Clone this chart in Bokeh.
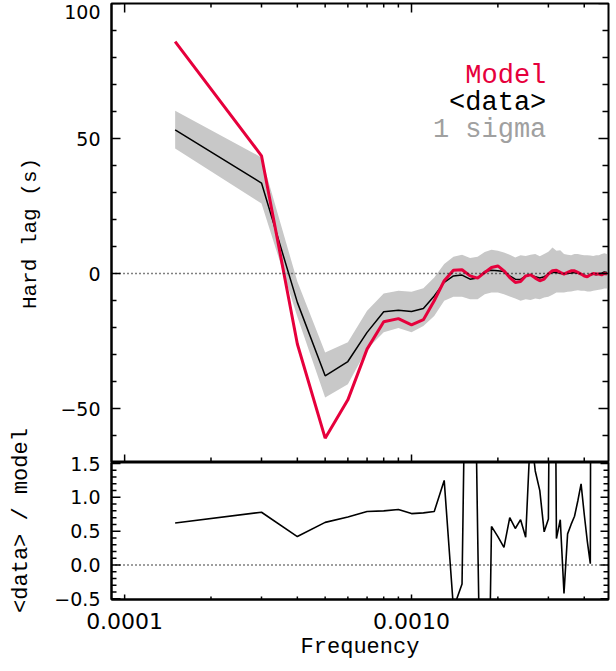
from math import log10, nan
from bokeh.plotting import figure
from bokeh.models import (Range1d, FixedTicker, PrintfTickFormatter,
                          CustomJSTickFormatter, Span, Label)
from bokeh.layouts import row, column
from bokeh.embed import file_html
from bokeh.resources import INLINE

# ---------------- data ----------------
FREQ = [1.5e-4, 3.0e-4, 4.0e-4, 5.0e-4, 6.0e-4, 7.0e-4, 8.0e-4, 9.0e-4,
        1.0e-3, 1.1e-3, 1.2e-3, 1.3e-3, 1.4e-3, 1.5e-3, 1.6e-3, 1.7e-3,
        1.8e-3, 1.9e-3, 2.0e-3, 2.1e-3, 2.2e-3, 2.3e-3, 2.4e-3, 2.5e-3,
        2.6e-3, 2.7e-3, 2.8e-3, 2.9e-3, 3.0e-3, 3.1e-3, 3.2e-3, 3.3e-3,
        3.4e-3, 3.5e-3, 3.6e-3, 3.7e-3, 3.8e-3, 3.9e-3, 4.0e-3, 4.1e-3,
        4.2e-3, 4.3e-3, 4.4e-3, 4.5e-3, 4.6e-3, 4.7e-3, 4.8e-3]

DATA_LAG = [53.2, 33.5, -10.7, -37.9, -32.6, -21.8, -14.2, -13.6,
            -14.1, -13.0, -8.3, -3.3, -0.9, -0.6, -2.1, -1.7,
            0.7, 1.2, 1.0, 0.7, -0.9, -2.1, -2.2, -0.9,
            -0.6, -1.2, -1.7, -1.2, -0.2, 0.4, 0.4, 0.1,
            -0.2, 0.0, 0.2, 0.4, 0.1, -0.2, -0.6, -0.9,
            -0.6, -0.2, -0.5, -0.2, 0.1, 0.6, 0.4]

MODEL_LAG = [85.9, 43.6, -26.1, -61.0, -46.8, -28.0, -17.9, -16.7,
             -19.0, -17.1, -10.1, -2.7, 1.2, 1.4, -0.9, -1.7,
             0.4, 2.2, 2.8, 1.0, -1.5, -3.3, -3.0, -0.9,
             -0.5, -1.7, -2.7, -2.1, -0.2, 1.0, 1.2, 0.4,
             -0.2, 0.4, 1.0, 1.0, 0.4, -0.2, -0.9, -1.2,
             -0.5, 0.0, -0.2, -0.2, -0.5, 0.0, -0.2]

SIGMA_UP = [60.3, 43.0, -3.0, -29.3, -25.5, -13.8, -7.4, -6.4,
            -6.8, -5.5, -1.5, 3.5, 6.2, 6.9, 5.7, 6.2,
            8.0, 8.8, 8.4, 7.8, 6.9, 5.9, 6.8, 6.5,
            6.9, 7.2, 6.4, 7.2, 8.1, 9.6, 8.4, 8.6,
            7.2, 6.9, 6.8, 7.2, 7.2, 6.9, 6.8, 6.8,
            6.7, 6.5, 6.8, 6.8, 7.2, 7.5, 7.2]

SIGMA_LO = [46.3, 25.9, -16.0, -45.9, -41.0, -28.0, -21.8, -20.2,
            -21.8, -19.4, -15.7, -10.1, -8.6, -8.6, -9.5, -9.5,
            -7.7, -7.0, -7.0, -7.7, -8.5, -9.3, -10.1, -9.5,
            -9.8, -9.3, -9.5, -8.9, -8.6, -7.9, -7.0, -7.0,
            -7.0, -6.8, -6.7, -6.4, -6.2, -6.4, -6.4, -6.7,
            -6.7, -6.4, -6.2, -6.0, -5.8, -5.6, -5.6]

RATIO = [0.62, 0.78, 0.42, 0.63, 0.71, 0.79, 0.80, 0.82,
         0.76, 0.77, 0.79, 1.25, -0.64, -0.28, 8.0, 0.5,
         -6.0, 0.57, 0.42, 0.26, 0.70, 0.54, 0.67, 0.41,
         2.0, 1.39, 1.10, 0.49, 0.68, 9.0, 0.39, 0.67,
         -0.42, 0.46, 0.60, 0.72, 0.95, 1.2, 0.75, 0.35,
         0.02, 20.0, 15.0, 25.0, 12.0, 30.0, 18.0]

X_MAJOR = [1e-4, 1e-3]
X_MINOR = [2e-4, 3e-4, 4e-4, 5e-4, 6e-4, 7e-4, 8e-4, 9e-4, 2e-3, 3e-3, 4e-3]
LAG_MAJOR = [-50, 0, 50, 100]
LAG_MINOR = [-70, -60, -40, -30, -20, -10, 10, 20, 30, 40, 60, 70, 80, 90]
RAT_MAJOR = [-0.5, 0.0, 0.5, 1.0, 1.5]
RAT_MINOR = [-0.4, -0.3, -0.2, -0.1, 0.1, 0.2, 0.3, 0.4, 0.6, 0.7, 0.8, 0.9,
             1.1, 1.2, 1.3, 1.4]

LEGEND_TEXT = ["Model", "<data>", "1 sigma"]
LEGEND_Y = [73, 63, 53]

RED = "#E6003C"
BAND = "#C8C8C8"
SIGMA_TXT = "#A0A0A0"
MONO = "Liberation Mono"
SANS = "DejaVu Sans"

# axis ranges
X0, X1 = 9e-5, 4.86e-3
LAG0, LAG1 = -70, 100
RAT0, RAT1 = -0.51, 1.515

# frame geometry (pixels)
FRAME_W, TOP_H, BOT_H = 497, 459, 137
DPX = log10(X1 / X0) / FRAME_W            # decades per pixel
UPP_T = (LAG1 - LAG0) / TOP_H             # lag units per pixel
UPP_B = (RAT1 - RAT0) / BOT_H             # ratio units per pixel

xr = Range1d(X0, X1)


def style_label_axis(ax, size):
    ax.axis_line_width = 2
    ax.axis_line_color = "black"
    ax.major_tick_in = 0
    ax.major_tick_out = 0
    ax.minor_tick_in = 0
    ax.minor_tick_out = 0
    ax.major_tick_line_color = None
    ax.minor_tick_line_color = None
    ax.major_label_text_font = SANS
    ax.major_label_text_font_size = size
    ax.major_label_text_color = "black"


def tick_path(p, groups):
    """Draw inward tick marks as one broken line (clipped by the frame)."""
    xs, ys = [], []
    for kind, vals, length, upp in groups:
        for v in vals:
            if kind == "left":
                xs += [X0 / 10 ** (4 * DPX), X0 * 10 ** (length * DPX), nan]
                ys += [v, v, nan]
            elif kind == "right":
                xs += [X1 * 10 ** (4 * DPX), X1 / 10 ** (length * DPX), nan]
                ys += [v, v, nan]
            elif kind[0] == "top":
                edge = kind[1]
                xs += [v, v, nan]
                ys += [edge + 4 * upp, edge - length * upp, nan]
            else:
                edge = kind[1]
                xs += [v, v, nan]
                ys += [edge - 4 * upp, edge + length * upp, nan]
    p.line(xs, ys, line_color="black", line_width=1.5)


lag_fmt = CustomJSTickFormatter(code="""
    if (tick >= 100) { return tick.toFixed(0) + '\\n'; }
    return (tick < 0 ? '\u2212' : '') + Math.abs(tick).toFixed(0);
""")
rat_fmt = CustomJSTickFormatter(code="return (tick < 0 ? '\u2212' : '') + Math.abs(tick).toFixed(1);")

# ---------------- top panel ----------------
top = figure(width=564, height=462, x_axis_type="log", x_range=xr,
             y_range=Range1d(LAG0, LAG1), output_backend="svg", toolbar_location=None,
             min_border_left=63, min_border_right=4, min_border_top=3, min_border_bottom=0)
top.grid.visible = False
top.outline_line_color = "black"
top.outline_line_width = 2
top.xaxis.visible = False

top.varea(x=FREQ, y1=SIGMA_LO, y2=SIGMA_UP, fill_color=BAND)
top.add_layout(Span(location=0, dimension="width", line_color="black",
                    line_dash="1 3", line_width=1.5))
top.line(FREQ, DATA_LAG, line_color="black", line_width=1.5)
top.line(FREQ, MODEL_LAG, line_color=RED, line_width=3)

tick_path(top, [("left", LAG_MAJOR, 9, None), ("left", LAG_MINOR, 5, None),
                ("right", LAG_MAJOR, 10, None), ("right", LAG_MINOR, 6, None),
                (("top", LAG1), X_MAJOR, 9, UPP_T), (("top", LAG1), X_MINOR, 4, UPP_T),
                (("bottom", LAG0), X_MAJOR, 8, UPP_T), (("bottom", LAG0), X_MINOR, 5, UPP_T)])

ay = top.yaxis[0]
ay.ticker = FixedTicker(ticks=LAG_MAJOR)
ay.formatter = lag_fmt
style_label_axis(ay, "19px")
ay.major_label_standoff = 11

legend_c = [RED, "black", SIGMA_TXT]
for t, yy, c in zip(LEGEND_TEXT, LEGEND_Y, legend_c):
    top.add_layout(Label(x=0.00295, y=yy, text=t, text_align="right", text_baseline="middle",
                         text_font=MONO, text_font_size="27px", text_color=c))

# ---------------- bottom panel (overlaps the top one by 12px of transparent border) ----------------
bot = figure(width=564, height=216, x_axis_type="log", x_range=xr,
             y_range=Range1d(RAT0, RAT1), output_backend="svg", toolbar_location=None,
             min_border_left=63, min_border_right=4, min_border_top=12, min_border_bottom=67,
             margin=(-12, 0, 0, 0))
bot.grid.visible = False
bot.outline_line_color = "black"
bot.outline_line_width = 2
bot.border_fill_color = None

bot.add_layout(Span(location=0, dimension="width", line_color="black",
                    line_dash="1 3", line_width=1.5))
bot.line(FREQ, RATIO, line_color="black", line_width=1.6)

tick_path(bot, [("left", RAT_MAJOR, 9, None), ("left", RAT_MINOR, 5, None),
                ("right", RAT_MAJOR, 8, None), ("right", RAT_MINOR, 5, None),
                (("bottom", RAT0), X_MAJOR, 5, UPP_B), (("bottom", RAT0), X_MINOR, 3, UPP_B)])

bx = bot.xaxis[0]
bx.ticker = FixedTicker(ticks=X_MAJOR)
bx.formatter = PrintfTickFormatter(format="%.4f")
style_label_axis(bx, "22px")
bx.major_label_standoff = 13
bx.axis_label = "Frequency"
bx.axis_label_text_font = MONO
bx.axis_label_text_font_size = "22px"
bx.axis_label_text_font_style = "normal"
bx.axis_label_text_color = "black"
bx.axis_label_standoff = 3

by = bot.yaxis[0]
by.ticker = FixedTicker(ticks=RAT_MAJOR)
by.formatter = rat_fmt
style_label_axis(by, "19px")
by.major_label_standoff = 11

# ---------------- y-axis titles ----------------
lab = figure(width=48, height=666, x_range=Range1d(0, 48), y_range=Range1d(0, 666),
             output_backend="svg", toolbar_location=None,
             min_border_left=0, min_border_right=0,
             min_border_top=0, min_border_bottom=0)
lab.axis.visible = False
lab.grid.visible = False
lab.outline_line_color = None
lab.add_layout(Label(x=30, y=433, text="Hard lag (s)", angle=90, angle_units="deg",
                     text_align="center", text_baseline="middle",
                     text_font=MONO, text_font_size="21px", text_color="black"))
lab.add_layout(Label(x=21, y=146, text="<data> / model", angle=90, angle_units="deg",
                     text_align="center", text_baseline="middle",
                     text_font=MONO, text_font_size="22px", text_color="black"))

layout = row(lab, column(top, bot, spacing=0), spacing=0)

with open("out.html", "w", encoding="utf-8") as f:
    f.write(file_html(layout, INLINE))
